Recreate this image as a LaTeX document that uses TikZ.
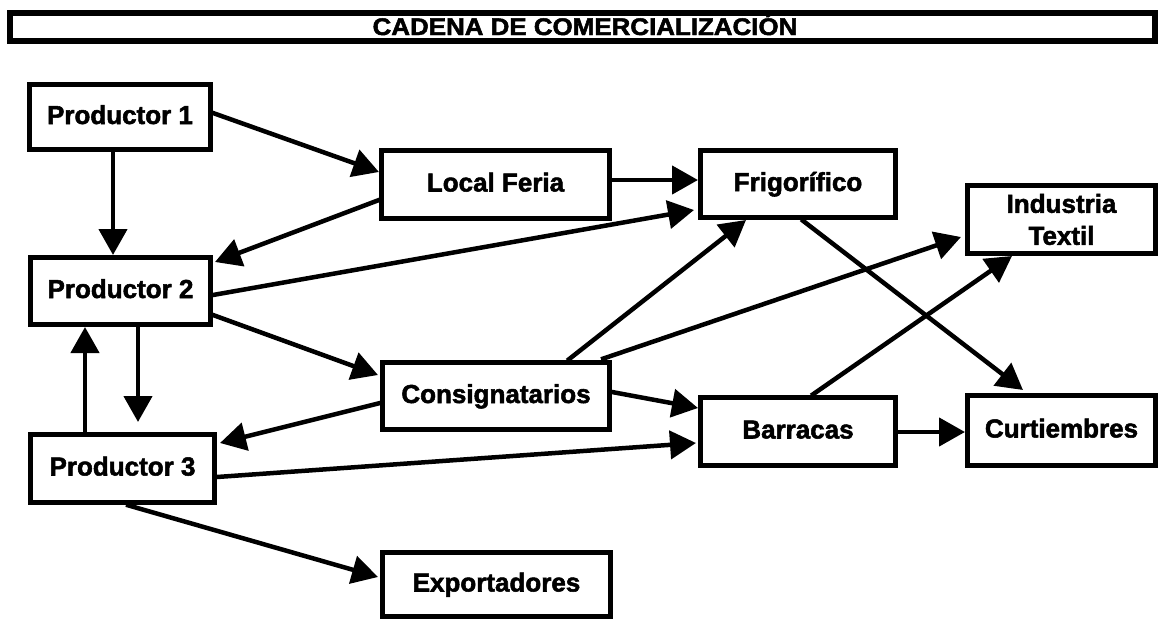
\documentclass[tikz,border=0pt]{standalone}
\usepackage{fontspec}
\setmainfont{Liberation Sans}[BoldFeatures={FakeBold=2}]
\usetikzlibrary{arrows.meta,calc}
\tikzset{
  box/.style={draw=black, line width=5pt, fill=white, inner sep=0pt, align=center,
    font=\fontsize{26}{32}\selectfont\bfseries},
  one/.style={text height=19pt, text depth=5pt},
  titlebox/.style={draw=black, line width=6pt, inner sep=0pt,
    font=\fontsize{24}{28}\selectfont\bfseries},
  titletext/.style={inner sep=0pt, text height=17pt, text depth=0pt,
    font=\fontsize{24}{28}\selectfont\bfseries},
  arr/.style={line width=4.5pt, -{Triangle[length=26pt,width=28pt]}, shorten <=-1pt}
}
\begin{document}
\begin{tikzpicture}[x=1pt,y=-1pt]
\useasboundingbox (0,0) rectangle (1160,619);
\node[titlebox, minimum width=1145pt, minimum height=28pt] (T) at (582.5,27) {};
\node[titletext] (TT) at (585,26.5) {\scalebox{1.08}[1]{CADENA DE COMERCIALIZACIÓN}};
\node[box, one, minimum width=181pt, minimum height=65pt] (P1) at (120,117) {Productor 1};
\node[box, one, minimum width=180pt, minimum height=67pt] (P2) at (120.5,291) {Productor 2};
\node[box, one, minimum width=184pt, minimum height=68pt] (P3) at (122.5,468.5) {Productor 3};
\node[box, one, minimum width=228pt, minimum height=68pt] (LF) at (495.5,184.5) {Local Feria};
\node[box, one, minimum width=195pt, minimum height=67pt] (Frig) at (798,184) {Frigorífico};
\node[box, one, minimum width=227pt, minimum height=67pt] (Consig) at (496,396) {Consignatarios};
\node[box, one, minimum width=195pt, minimum height=68pt] (Barr) at (798,431.5) {Barracas};
\node[box, minimum width=188pt, minimum height=68pt] (Ind) at (1061.5,219.5) {Industria\\Textil};
\node[box, one, minimum width=188pt, minimum height=70pt] (Curt) at (1061.5,430.5) {Curtiembres};
\node[box, one, minimum width=228pt, minimum height=64pt] (Exp) at (496.5,584.5) {Exportadores};

\draw[arr] ($(P1.east)+(0,-4)$) -- ($(LF.west)+(0,-12.5)$);
\draw[arr] ($(P1.south)+(-7,0)$) -- ($(P2.north)+(-7.5,0)$);
\draw[arr] ($(LF.west)+(0,15.5)$) -- ($(P2.east)+(2,-29)$);
\draw[arr] ($(LF.east)+(0,-4.5)$) -- ($(Frig.west)+(0,-4)$);
\draw[arr] ($(P2.east)+(0,4)$) -- ($(Frig.west)+(-4,26)$);
\draw[arr] ($(P2.east)+(0,24)$) -- ($(Consig.west)+(-2,-21)$);
\draw[arr] ($(P2.south)+(17.5,0)$) -- ($(P3.north)+(15.5,-10)$);
\draw[arr] ($(P3.north)+(-37.5,0)$) -- ($(P2.south)+(-35.5,0)$);
\draw[arr] ($(Consig.west)+(0,7)$) -- ($(P3.east)+(3,-25.5)$);
\draw[arr] ($(Consig.north)+(72,0)$) -- ($(Frig.south)+(-52,0)$);
\draw[arr] ($(Consig.north)+(106,-1)$) -- ($(Ind.west)+(-4,17.5)$);
\draw[arr] ($(Consig.east)+(0,-4)$) -- ($(Barr.west)+(0,-23.5)$);
\draw[arr] ($(P3.east)+(0,8.5)$) -- ($(Barr.west)+(-2,11.5)$);
\draw[arr] ($(P3.south)+(4.5,0)$) -- ($(Exp.west)+(-2,-7.5)$);
\draw[arr] ($(Frig.south)+(4,0)$) -- ($(Curt.north)+(-38.5,-3)$);
\draw[arr] ($(Barr.north)+(14,0)$) -- ($(Ind.south)+(-49.5,0)$);
\draw[arr] ($(Barr.east)+(0,0.5)$) -- ($(Curt.west)+(0,1.5)$);
\end{tikzpicture}
\end{document}
